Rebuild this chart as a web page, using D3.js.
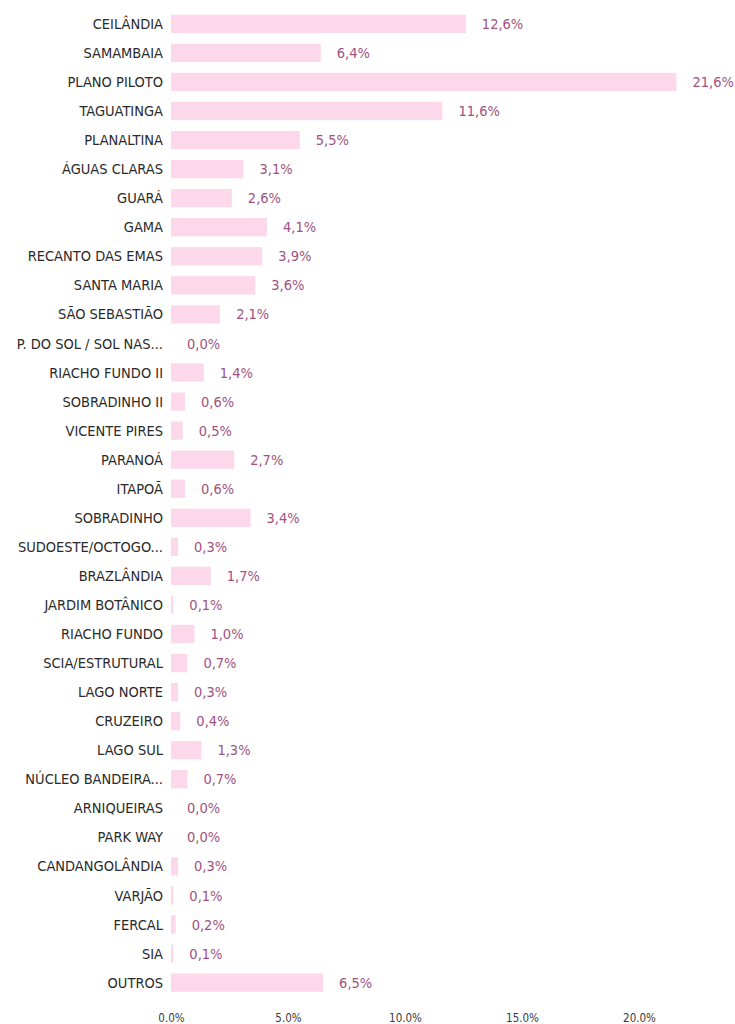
<!DOCTYPE html>
<html>
<head>
<meta charset="utf-8">
<script src="https://cdn.jsdelivr.net/npm/d3@7"></script>
<style>
  body { margin: 0; background: #fff; }
  svg { display: block; }
</style>
</head>
<body>
<svg id="chart" width="735" height="1024"></svg>
<script>
// regiões administrativas e participação (%)
const regioes = [
  'CEILÂNDIA', 'SAMAMBAIA', 'PLANO PILOTO', 'TAGUATINGA', 'PLANALTINA',
  'ÁGUAS CLARAS', 'GUARÁ', 'GAMA', 'RECANTO DAS EMAS', 'SANTA MARIA',
  'SÃO SEBASTIÃO', 'P. DO SOL / SOL NAS...', 'RIACHO FUNDO II', 'SOBRADINHO II',
  'VICENTE PIRES', 'PARANOÁ', 'ITAPOÃ', 'SOBRADINHO', 'SUDOESTE/OCTOGO...',
  'BRAZLÂNDIA', 'JARDIM BOTÂNICO', 'RIACHO FUNDO', 'SCIA/ESTRUTURAL',
  'LAGO NORTE', 'CRUZEIRO', 'LAGO SUL', 'NÚCLEO BANDEIRA...', 'ARNIQUEIRAS',
  'PARK WAY', 'CANDANGOLÂNDIA', 'VARJÃO', 'FERCAL', 'SIA', 'OUTROS'
]
const percentuais = [
  12.6, 6.4, 21.6, 11.6, 5.5,
  3.1, 2.6, 4.1, 3.9, 3.6,
  2.1, 0.0, 1.4, 0.6,
  0.5, 2.7, 0.6, 3.4, 0.3,
  1.7, 0.1, 1.0, 0.7,
  0.3, 0.4, 1.3, 0.7, 0.0,
  0.0, 0.3, 0.1, 0.2, 0.1, 6.5
]
const ticks = [0, 5, 10, 15, 20]

const svg = d3.select('#chart')
const fmt = v => v.toFixed(1).replace('.', ',') + '%'
const fmtTick = v => v.toFixed(1) + '%'
const fonte = 'DejaVu Sans Condensed, DejaVu Sans'

const x = d3.scaleLinear()
  .domain([0, 5])
  .range([171, 288])

const y = d3.scaleBand()
  .domain(regioes)
  .range([9.5, 997])
  .paddingInner(0.37)
  .paddingOuter(0.18)

const data = regioes.map((r, i) => ({ r, v: percentuais[i] }))

svg.append('g')
  .selectAll('rect')
  .data(data)
  .enter().append('rect')
  .attr('x', x(0))
  .attr('y', d => y(d.r))
  .attr('width', d => Math.max(0, x(d.v) - x(0)))
  .attr('height', y.bandwidth())
  .attr('fill', '#fdd8ea')

// rótulos das categorias
svg.append('g')
  .selectAll('text')
  .data(data)
  .enter().append('text')
  .attr('x', 163)
  .attr('y', d => y(d.r) + y.bandwidth() / 2)
  .attr('dy', '0.35em')
  .attr('text-anchor', 'end')
  .style('font-family', fonte)
  .style('font-size', '14.5px')
  .style('fill', '#2a2a2a')
  .text(d => d.r)

// valores
svg.append('g')
  .selectAll('text')
  .data(data)
  .enter().append('text')
  .attr('x', d => x(d.v) + 16)
  .attr('y', d => y(d.r) + y.bandwidth() / 2)
  .attr('dy', '0.35em')
  .style('font-family', fonte)
  .style('font-size', '14.5px')
  .style('fill', '#a0527f')
  .text(d => fmt(d.v))

// eixo x
const axis = d3.axisBottom(x)
  .tickValues(ticks)
  .tickFormat(fmtTick)
  .tickSize(0)

const gx = svg.append('g')
  .attr('transform', 'translate(0,1011)')
  .call(axis)
gx.select('.domain').remove()
gx.selectAll('text')
  .style('font-family', fonte)
  .style('font-size', '11.5px')
  .style('fill', '#3a3a3a')
</script>
</body>
</html>
